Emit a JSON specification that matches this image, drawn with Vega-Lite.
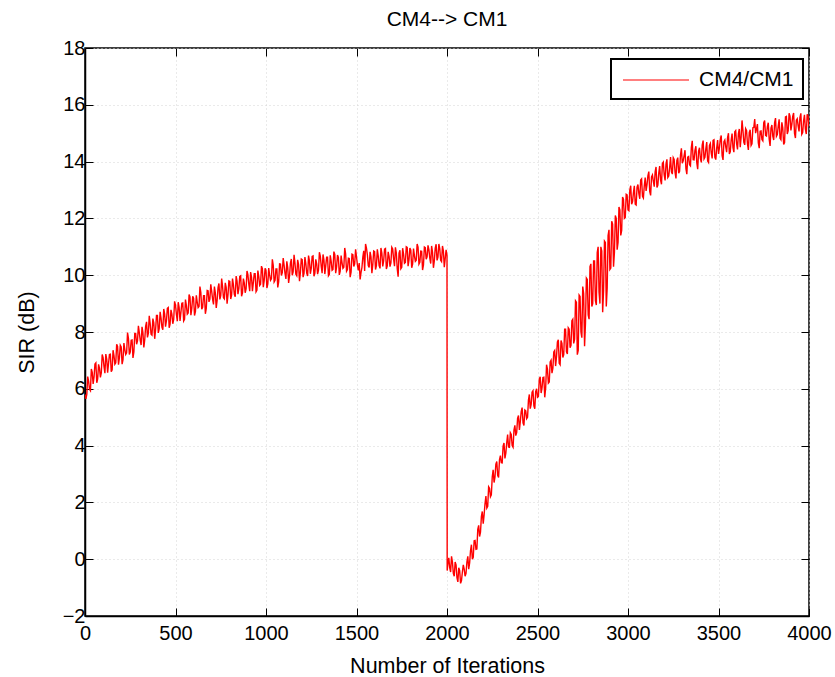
{
  "$schema": "https://vega.github.io/schema/vega-lite/v6.json",
  "width": 724,
  "height": 568,
  "autosize": {"type": "none"},
  "padding": {"left": 85, "top": 48, "right": 26, "bottom": 61},
  "background": "white",
  "title": {"text": "CM4--> CM1", "fontSize": 21, "fontWeight": "normal", "font": "Liberation Sans", "color": "black", "anchor": "middle", "offset": 8},
  "config": {
    "font": "Liberation Sans",
    "view": {"stroke": "black", "strokeWidth": 1.5},
    "axis": {"labelFontSize": 20, "titleFontSize": 21.5, "titleFontWeight": "normal", "labelColor": "black", "titleColor": "black", "domainColor": "black", "domainWidth": 1.5, "tickColor": "black", "tickSize": -8, "tickWidth": 1, "gridColor": "#d4d4d4", "gridDash": [1, 3], "gridWidth": 1, "labelFlush": false, "labelOverlap": false}
  },
  "data": {"values": [
{"iter":0,"sir":5.8},{"iter":5,"sir":5.65},{"iter":10,"sir":5.8},{"iter":15,"sir":6.43},{"iter":20,"sir":6.26},{"iter":25,"sir":5.98},{"iter":30,"sir":5.93},{"iter":35,"sir":6.7},{"iter":40,"sir":6.58},{"iter":45,"sir":6.17},{"iter":50,"sir":6.42},{"iter":55,"sir":6.87},{"iter":60,"sir":6.91},{"iter":65,"sir":6.21},{"iter":70,"sir":6.35},{"iter":75,"sir":6.86},{"iter":80,"sir":6.73},{"iter":85,"sir":6.4},{"iter":90,"sir":6.56},{"iter":95,"sir":7.21},{"iter":100,"sir":7.1},
{"iter":105,"sir":6.78},{"iter":110,"sir":6.55},{"iter":115,"sir":7.22},{"iter":120,"sir":7.05},{"iter":125,"sir":6.57},{"iter":130,"sir":6.89},{"iter":135,"sir":7.21},{"iter":140,"sir":7.22},{"iter":145,"sir":6.6},{"iter":150,"sir":6.67},{"iter":155,"sir":7.36},{"iter":160,"sir":7.17},{"iter":165,"sir":6.87},{"iter":170,"sir":6.92},{"iter":175,"sir":7.57},{"iter":180,"sir":7.49},{"iter":185,"sir":6.85},{"iter":190,"sir":7.09},{"iter":195,"sir":7.53},{"iter":200,"sir":7.47},
{"iter":205,"sir":6.87},{"iter":210,"sir":7.03},{"iter":215,"sir":7.61},{"iter":220,"sir":7.38},{"iter":225,"sir":7.21},{"iter":230,"sir":7.27},{"iter":235,"sir":7.98},{"iter":240,"sir":7.78},{"iter":245,"sir":7.21},{"iter":250,"sir":7.29},{"iter":255,"sir":7.71},{"iter":260,"sir":7.72},{"iter":265,"sir":7.09},{"iter":270,"sir":7.3},{"iter":275,"sir":7.95},{"iter":280,"sir":7.95},{"iter":285,"sir":7.57},{"iter":290,"sir":7.69},{"iter":295,"sir":8.22},{"iter":300,"sir":7.98},
{"iter":305,"sir":7.71},{"iter":310,"sir":7.54},{"iter":315,"sir":8.18},{"iter":320,"sir":7.98},{"iter":325,"sir":7.46},{"iter":330,"sir":7.73},{"iter":335,"sir":8.2},{"iter":340,"sir":8.36},{"iter":345,"sir":7.81},{"iter":350,"sir":7.95},{"iter":355,"sir":8.57},{"iter":360,"sir":8.3},{"iter":365,"sir":7.92},{"iter":370,"sir":7.89},{"iter":375,"sir":8.47},{"iter":380,"sir":8.32},{"iter":385,"sir":7.76},{"iter":390,"sir":8.08},{"iter":395,"sir":8.58},{"iter":400,"sir":8.58},
{"iter":405,"sir":7.97},{"iter":410,"sir":8.12},{"iter":415,"sir":8.71},{"iter":420,"sir":8.49},{"iter":425,"sir":8.17},{"iter":430,"sir":8.08},{"iter":435,"sir":8.81},{"iter":440,"sir":8.64},{"iter":445,"sir":8.19},{"iter":450,"sir":8.4},{"iter":455,"sir":8.83},{"iter":460,"sir":8.86},{"iter":465,"sir":8.15},{"iter":470,"sir":8.28},{"iter":475,"sir":8.78},{"iter":480,"sir":8.63},{"iter":485,"sir":8.29},{"iter":490,"sir":8.44},{"iter":495,"sir":9.08},{"iter":500,"sir":8.95},
{"iter":505,"sir":8.62},{"iter":510,"sir":8.38},{"iter":515,"sir":9.05},{"iter":520,"sir":8.87},{"iter":525,"sir":8.39},{"iter":530,"sir":8.7},{"iter":535,"sir":9.01},{"iter":540,"sir":9.02},{"iter":545,"sir":8.39},{"iter":550,"sir":8.45},{"iter":555,"sir":9.14},{"iter":560,"sir":8.94},{"iter":565,"sir":8.63},{"iter":570,"sir":8.67},{"iter":575,"sir":9.32},{"iter":580,"sir":9.24},{"iter":585,"sir":8.59},{"iter":590,"sir":8.82},{"iter":595,"sir":9.26},{"iter":600,"sir":9.19},
{"iter":605,"sir":8.58},{"iter":610,"sir":8.72},{"iter":615,"sir":9.29},{"iter":620,"sir":9.05},{"iter":625,"sir":8.86},{"iter":630,"sir":8.9},{"iter":635,"sir":9.6},{"iter":640,"sir":9.39},{"iter":645,"sir":8.8},{"iter":650,"sir":8.87},{"iter":655,"sir":9.28},{"iter":660,"sir":9.28},{"iter":665,"sir":8.64},{"iter":670,"sir":8.83},{"iter":675,"sir":9.46},{"iter":680,"sir":9.45},{"iter":685,"sir":9.06},{"iter":690,"sir":9.16},{"iter":695,"sir":9.68},{"iter":700,"sir":9.43},
{"iter":705,"sir":9.15},{"iter":710,"sir":8.97},{"iter":715,"sir":9.6},{"iter":720,"sir":9.38},{"iter":725,"sir":8.85},{"iter":730,"sir":9.11},{"iter":735,"sir":9.56},{"iter":740,"sir":9.71},{"iter":745,"sir":9.15},{"iter":750,"sir":9.28},{"iter":755,"sir":9.88},{"iter":760,"sir":9.6},{"iter":765,"sir":9.21},{"iter":770,"sir":9.17},{"iter":775,"sir":9.73},{"iter":780,"sir":9.57},{"iter":785,"sir":9.0},{"iter":790,"sir":9.31},{"iter":795,"sir":9.8},{"iter":800,"sir":9.78},
{"iter":805,"sir":9.16},{"iter":810,"sir":9.3},{"iter":815,"sir":9.88},{"iter":820,"sir":9.66},{"iter":825,"sir":9.33},{"iter":830,"sir":9.24},{"iter":835,"sir":9.97},{"iter":840,"sir":9.79},{"iter":845,"sir":9.33},{"iter":850,"sir":9.53},{"iter":855,"sir":9.96},{"iter":860,"sir":9.98},{"iter":865,"sir":9.26},{"iter":870,"sir":9.38},{"iter":875,"sir":9.88},{"iter":880,"sir":9.73},{"iter":885,"sir":9.38},{"iter":890,"sir":9.52},{"iter":895,"sir":10.15},{"iter":900,"sir":10.02},
{"iter":905,"sir":9.68},{"iter":910,"sir":9.44},{"iter":915,"sir":10.11},{"iter":920,"sir":9.93},{"iter":925,"sir":9.44},{"iter":930,"sir":9.74},{"iter":935,"sir":10.05},{"iter":940,"sir":10.05},{"iter":945,"sir":9.42},{"iter":950,"sir":9.48},{"iter":955,"sir":10.16},{"iter":960,"sir":9.96},{"iter":965,"sir":9.64},{"iter":970,"sir":9.68},{"iter":975,"sir":10.32},{"iter":980,"sir":10.23},{"iter":985,"sir":9.58},{"iter":990,"sir":9.81},{"iter":995,"sir":10.24},{"iter":1000,"sir":10.17},
{"iter":1005,"sir":9.55},{"iter":1010,"sir":9.69},{"iter":1015,"sir":10.25},{"iter":1020,"sir":10.01},{"iter":1025,"sir":9.82},{"iter":1030,"sir":9.87},{"iter":1035,"sir":10.56},{"iter":1040,"sir":10.35},{"iter":1045,"sir":9.76},{"iter":1050,"sir":9.82},{"iter":1055,"sir":10.22},{"iter":1060,"sir":10.22},{"iter":1065,"sir":9.57},{"iter":1070,"sir":9.76},{"iter":1075,"sir":10.4},{"iter":1080,"sir":10.39},{"iter":1085,"sir":9.99},{"iter":1090,"sir":10.09},{"iter":1095,"sir":10.6},{"iter":1100,"sir":10.35},
{"iter":1105,"sir":10.06},{"iter":1110,"sir":9.87},{"iter":1115,"sir":10.49},{"iter":1120,"sir":10.27},{"iter":1125,"sir":9.73},{"iter":1130,"sir":9.98},{"iter":1135,"sir":10.43},{"iter":1140,"sir":10.57},{"iter":1145,"sir":10.0},{"iter":1150,"sir":10.12},{"iter":1155,"sir":10.72},{"iter":1160,"sir":10.43},{"iter":1165,"sir":10.03},{"iter":1170,"sir":9.98},{"iter":1175,"sir":10.54},{"iter":1180,"sir":10.37},{"iter":1185,"sir":9.79},{"iter":1190,"sir":10.09},{"iter":1195,"sir":10.57},{"iter":1200,"sir":10.55},
{"iter":1205,"sir":9.93},{"iter":1210,"sir":10.06},{"iter":1215,"sir":10.64},{"iter":1220,"sir":10.41},{"iter":1225,"sir":10.07},{"iter":1230,"sir":9.97},{"iter":1235,"sir":10.69},{"iter":1240,"sir":10.51},{"iter":1245,"sir":10.05},{"iter":1250,"sir":10.24},{"iter":1255,"sir":10.66},{"iter":1260,"sir":10.68},{"iter":1265,"sir":9.96},{"iter":1270,"sir":10.07},{"iter":1275,"sir":10.56},{"iter":1280,"sir":10.4},{"iter":1285,"sir":10.04},{"iter":1290,"sir":10.18},{"iter":1295,"sir":10.81},{"iter":1300,"sir":10.67},
{"iter":1305,"sir":10.32},{"iter":1310,"sir":10.07},{"iter":1315,"sir":10.73},{"iter":1320,"sir":10.54},{"iter":1325,"sir":10.04},{"iter":1330,"sir":10.33},{"iter":1335,"sir":10.63},{"iter":1340,"sir":10.63},{"iter":1345,"sir":9.98},{"iter":1350,"sir":10.03},{"iter":1355,"sir":10.7},{"iter":1360,"sir":10.49},{"iter":1365,"sir":10.17},{"iter":1370,"sir":10.2},{"iter":1375,"sir":10.83},{"iter":1380,"sir":10.73},{"iter":1385,"sir":10.07},{"iter":1390,"sir":10.29},{"iter":1395,"sir":10.71},{"iter":1400,"sir":10.63},
{"iter":1405,"sir":10.01},{"iter":1410,"sir":10.14},{"iter":1415,"sir":10.69},{"iter":1420,"sir":10.44},{"iter":1425,"sir":10.24},{"iter":1430,"sir":10.28},{"iter":1435,"sir":10.96},{"iter":1440,"sir":10.74},{"iter":1445,"sir":10.14},{"iter":1450,"sir":10.2},{"iter":1455,"sir":10.6},{"iter":1460,"sir":10.59},{"iter":1465,"sir":9.93},{"iter":1470,"sir":10.11},{"iter":1475,"sir":10.74},{"iter":1480,"sir":10.72},{"iter":1485,"sir":10.31},{"iter":1490,"sir":10.4},{"iter":1495,"sir":10.91},{"iter":1500,"sir":10.65},
{"iter":1505,"sir":10.36},{"iter":1510,"sir":10.17},{"iter":1515,"sir":10.43},{"iter":1520,"sir":9.85},{"iter":1525,"sir":10.1},{"iter":1530,"sir":10.27},{"iter":1535,"sir":10.64},{"iter":1540,"sir":10.86},{"iter":1545,"sir":10.15},{"iter":1550,"sir":11.1},{"iter":1555,"sir":10.95},{"iter":1560,"sir":10.72},{"iter":1565,"sir":10.34},{"iter":1570,"sir":10.27},{"iter":1575,"sir":10.82},{"iter":1580,"sir":10.65},{"iter":1585,"sir":10.07},{"iter":1590,"sir":10.37},{"iter":1595,"sir":10.85},{"iter":1600,"sir":10.83},
{"iter":1605,"sir":10.2},{"iter":1610,"sir":10.34},{"iter":1615,"sir":10.91},{"iter":1620,"sir":10.68},{"iter":1625,"sir":10.34},{"iter":1630,"sir":10.24},{"iter":1635,"sir":10.96},{"iter":1640,"sir":10.78},{"iter":1645,"sir":10.31},{"iter":1650,"sir":10.5},{"iter":1655,"sir":10.92},{"iter":1660,"sir":10.94},{"iter":1665,"sir":10.22},{"iter":1670,"sir":10.33},{"iter":1675,"sir":10.82},{"iter":1680,"sir":10.66},{"iter":1685,"sir":10.3},{"iter":1690,"sir":10.43},{"iter":1695,"sir":10.98},{"iter":1700,"sir":10.92},
{"iter":1705,"sir":10.57},{"iter":1710,"sir":10.32},{"iter":1715,"sir":10.98},{"iter":1720,"sir":10.79},{"iter":1725,"sir":10.23},{"iter":1730,"sir":9.95},{"iter":1735,"sir":10.78},{"iter":1740,"sir":10.88},{"iter":1745,"sir":10.23},{"iter":1750,"sir":10.28},{"iter":1755,"sir":10.95},{"iter":1760,"sir":10.74},{"iter":1765,"sir":10.42},{"iter":1770,"sir":10.45},{"iter":1775,"sir":11.0},{"iter":1780,"sir":10.98},{"iter":1785,"sir":10.32},{"iter":1790,"sir":10.54},{"iter":1795,"sir":10.96},{"iter":1800,"sir":10.88},
{"iter":1805,"sir":10.26},{"iter":1810,"sir":10.39},{"iter":1815,"sir":10.94},{"iter":1820,"sir":10.69},{"iter":1825,"sir":10.49},{"iter":1830,"sir":10.53},{"iter":1835,"sir":11.1},{"iter":1840,"sir":10.99},{"iter":1845,"sir":10.39},{"iter":1850,"sir":10.45},{"iter":1855,"sir":10.85},{"iter":1860,"sir":10.84},{"iter":1865,"sir":10.18},{"iter":1870,"sir":10.36},{"iter":1875,"sir":10.99},{"iter":1880,"sir":10.97},{"iter":1885,"sir":10.56},{"iter":1890,"sir":10.65},{"iter":1895,"sir":11.05},{"iter":1900,"sir":10.9},
{"iter":1905,"sir":10.6},{"iter":1910,"sir":10.41},{"iter":1915,"sir":11.03},{"iter":1920,"sir":10.81},{"iter":1925,"sir":10.26},{"iter":1930,"sir":10.51},{"iter":1935,"sir":10.95},{"iter":1940,"sir":11.09},{"iter":1945,"sir":10.52},{"iter":1950,"sir":10.64},{"iter":1955,"sir":11.1},{"iter":1960,"sir":10.94},{"iter":1965,"sir":10.53},{"iter":1970,"sir":10.48},{"iter":1975,"sir":11.03},{"iter":1980,"sir":10.86},{"iter":1985,"sir":10.28},{"iter":1990,"sir":10.58},{"iter":1995,"sir":10.89},{"iter":2000,"sir":10.7},
{"iter":2001,"sir":-0.4},{"iter":2005,"sir":-0.15},{"iter":2010,"sir":0.05},{"iter":2015,"sir":-0.3},{"iter":2020,"sir":-0.45},{"iter":2025,"sir":0.1},{"iter":2030,"sir":-0.1},{"iter":2035,"sir":-0.5},{"iter":2040,"sir":-0.6},{"iter":2045,"sir":-0.1},{"iter":2050,"sir":-0.2},{"iter":2055,"sir":-0.65},{"iter":2060,"sir":-0.8},{"iter":2065,"sir":-0.3},{"iter":2070,"sir":-0.4},{"iter":2075,"sir":-0.85},{"iter":2080,"sir":-0.75},{"iter":2085,"sir":-0.45},{"iter":2090,"sir":-0.2},{"iter":2095,"sir":-0.35},{"iter":2100,"sir":-0.6},
{"iter":2105,"sir":-0.5},{"iter":2110,"sir":-0.1},{"iter":2115,"sir":0.1},{"iter":2120,"sir":-0.35},{"iter":2125,"sir":-0.13},{"iter":2130,"sir":0.3},{"iter":2135,"sir":0.51},{"iter":2140,"sir":0.0},{"iter":2145,"sir":0.07},{"iter":2150,"sir":0.65},{"iter":2155,"sir":0.66},{"iter":2160,"sir":0.35},{"iter":2165,"sir":0.36},{"iter":2170,"sir":1.05},{"iter":2175,"sir":1.19},{"iter":2180,"sir":0.8},{"iter":2185,"sir":0.95},{"iter":2190,"sir":1.5},{"iter":2195,"sir":1.68},{"iter":2200,"sir":1.25},
{"iter":2205,"sir":1.56},{"iter":2210,"sir":1.95},{"iter":2215,"sir":2.22},{"iter":2220,"sir":1.8},{"iter":2225,"sir":1.86},{"iter":2230,"sir":2.55},{"iter":2235,"sir":2.5},{"iter":2240,"sir":2.2},{"iter":2245,"sir":2.27},{"iter":2250,"sir":2.9},{"iter":2255,"sir":3.15},{"iter":2260,"sir":2.7},{"iter":2265,"sir":2.89},{"iter":2270,"sir":3.35},{"iter":2275,"sir":3.44},{"iter":2280,"sir":2.95},{"iter":2285,"sir":2.88},{"iter":2290,"sir":3.5},{"iter":2295,"sir":3.65},{"iter":2300,"sir":3.4},
{"iter":2305,"sir":3.39},{"iter":2310,"sir":3.98},{"iter":2315,"sir":4.09},{"iter":2320,"sir":3.55},{"iter":2325,"sir":3.73},{"iter":2330,"sir":4.1},{"iter":2335,"sir":4.39},{"iter":2340,"sir":3.95},{"iter":2345,"sir":3.94},{"iter":2350,"sir":4.45},{"iter":2355,"sir":4.39},{"iter":2360,"sir":4.0},{"iter":2365,"sir":3.94},{"iter":2370,"sir":4.55},{"iter":2375,"sir":4.71},{"iter":2380,"sir":4.35},{"iter":2385,"sir":4.46},{"iter":2390,"sir":4.96},{"iter":2395,"sir":5.06},{"iter":2400,"sir":4.55},
{"iter":2405,"sir":4.84},{"iter":2410,"sir":5.2},{"iter":2415,"sir":5.34},{"iter":2420,"sir":4.8},{"iter":2425,"sir":4.71},{"iter":2430,"sir":5.25},{"iter":2435,"sir":5.22},{"iter":2440,"sir":4.95},{"iter":2445,"sir":5.0},{"iter":2450,"sir":5.6},{"iter":2455,"sir":5.8},{"iter":2460,"sir":5.3},{"iter":2465,"sir":5.45},{"iter":2470,"sir":5.88},{"iter":2475,"sir":5.93},{"iter":2480,"sir":5.4},{"iter":2485,"sir":5.3},{"iter":2490,"sir":5.9},{"iter":2495,"sir":6.0},{"iter":2500,"sir":5.7},
{"iter":2505,"sir":5.73},{"iter":2510,"sir":6.35},{"iter":2515,"sir":6.42},{"iter":2520,"sir":5.85},{"iter":2525,"sir":6.03},{"iter":2530,"sir":6.4},{"iter":2535,"sir":6.41},{"iter":2540,"sir":5.7},{"iter":2545,"sir":6.02},{"iter":2550,"sir":6.85},{"iter":2555,"sir":6.69},{"iter":2560,"sir":6.2},{"iter":2565,"sir":6.24},{"iter":2570,"sir":6.95},{"iter":2575,"sir":7.01},{"iter":2580,"sir":6.55},{"iter":2585,"sir":6.73},{"iter":2590,"sir":7.3},{"iter":2595,"sir":7.35},{"iter":2600,"sir":6.8},
{"iter":2605,"sir":7.13},{"iter":2610,"sir":7.65},{"iter":2615,"sir":7.73},{"iter":2620,"sir":6.9},{"iter":2625,"sir":6.85},{"iter":2630,"sir":7.7},{"iter":2635,"sir":7.6},{"iter":2640,"sir":7.1},{"iter":2645,"sir":7.2},{"iter":2650,"sir":8.1},{"iter":2655,"sir":8.1},{"iter":2660,"sir":7.3},{"iter":2665,"sir":7.23},{"iter":2670,"sir":8.15},{"iter":2675,"sir":8.1},{"iter":2680,"sir":7.45},{"iter":2685,"sir":7.53},{"iter":2690,"sir":8.4},{"iter":2695,"sir":8.45},{"iter":2700,"sir":7.6},
{"iter":2705,"sir":7.75},{"iter":2710,"sir":9.1},{"iter":2715,"sir":9.05},{"iter":2720,"sir":7.2},{"iter":2725,"sir":7.35},{"iter":2730,"sir":9.3},{"iter":2735,"sir":9.25},{"iter":2740,"sir":8.0},{"iter":2745,"sir":7.8},{"iter":2750,"sir":9.6},{"iter":2755,"sir":9.35},{"iter":2760,"sir":7.5},{"iter":2765,"sir":8.3},{"iter":2770,"sir":9.9},{"iter":2775,"sir":9.85},{"iter":2780,"sir":8.6},{"iter":2785,"sir":8.45},{"iter":2790,"sir":10.3},{"iter":2795,"sir":10.4},{"iter":2800,"sir":8.9},
{"iter":2805,"sir":9.0},{"iter":2810,"sir":10.5},{"iter":2815,"sir":10.5},{"iter":2820,"sir":9.1},{"iter":2825,"sir":8.95},{"iter":2830,"sir":10.8},{"iter":2835,"sir":11.0},{"iter":2840,"sir":9.4},{"iter":2845,"sir":9.0},{"iter":2850,"sir":11.0},{"iter":2855,"sir":10.85},{"iter":2860,"sir":8.7},{"iter":2865,"sir":9.45},{"iter":2870,"sir":11.2},{"iter":2875,"sir":11.15},{"iter":2880,"sir":8.9},{"iter":2885,"sir":9.55},{"iter":2890,"sir":11.4},{"iter":2895,"sir":11.6},{"iter":2900,"sir":10.2},
{"iter":2905,"sir":10.25},{"iter":2910,"sir":11.9},{"iter":2915,"sir":11.8},{"iter":2920,"sir":10.3},{"iter":2925,"sir":10.8},{"iter":2930,"sir":12.1},{"iter":2935,"sir":12.0},{"iter":2940,"sir":10.9},{"iter":2945,"sir":11.15},{"iter":2950,"sir":12.4},{"iter":2955,"sir":12.3},{"iter":2960,"sir":11.4},{"iter":2965,"sir":11.58},{"iter":2970,"sir":12.75},{"iter":2975,"sir":12.68},{"iter":2980,"sir":12.0},{"iter":2985,"sir":12.03},{"iter":2990,"sir":12.85},{"iter":2995,"sir":12.83},{"iter":3000,"sir":12.3},
{"iter":3005,"sir":12.27},{"iter":3010,"sir":13.0},{"iter":3015,"sir":13.15},{"iter":3020,"sir":12.5},{"iter":3025,"sir":12.58},{"iter":3030,"sir":12.9},{"iter":3035,"sir":13.15},{"iter":3040,"sir":12.5},{"iter":3045,"sir":12.47},{"iter":3050,"sir":13.1},{"iter":3055,"sir":13.19},{"iter":3060,"sir":12.87},{"iter":3065,"sir":12.69},{"iter":3070,"sir":13.35},{"iter":3075,"sir":13.39},{"iter":3080,"sir":12.78},{"iter":3085,"sir":12.72},{"iter":3090,"sir":13.15},{"iter":3095,"sir":13.44},{"iter":3100,"sir":12.97},
{"iter":3105,"sir":13.19},{"iter":3110,"sir":13.5},{"iter":3115,"sir":13.65},{"iter":3120,"sir":12.95},{"iter":3125,"sir":12.81},{"iter":3130,"sir":13.46},{"iter":3135,"sir":13.53},{"iter":3140,"sir":13.3},{"iter":3145,"sir":13.12},{"iter":3150,"sir":13.64},{"iter":3155,"sir":13.81},{"iter":3160,"sir":13.09},{"iter":3165,"sir":13.17},{"iter":3170,"sir":13.6},{"iter":3175,"sir":13.84},{"iter":3180,"sir":13.35},{"iter":3185,"sir":13.2},{"iter":3190,"sir":13.93},{"iter":3195,"sir":13.98},{"iter":3200,"sir":13.53},
{"iter":3205,"sir":13.34},{"iter":3210,"sir":13.91},{"iter":3215,"sir":14.08},{"iter":3220,"sir":13.44},{"iter":3225,"sir":13.49},{"iter":3230,"sir":13.78},{"iter":3235,"sir":14.16},{"iter":3240,"sir":13.64},{"iter":3245,"sir":13.56},{"iter":3250,"sir":14.14},{"iter":3255,"sir":14.08},{"iter":3260,"sir":13.62},{"iter":3265,"sir":13.41},{"iter":3270,"sir":14.04},{"iter":3275,"sir":14.14},{"iter":3280,"sir":13.59},{"iter":3285,"sir":13.66},{"iter":3290,"sir":14.23},{"iter":3295,"sir":14.47},{"iter":3300,"sir":13.94},
{"iter":3305,"sir":14.03},{"iter":3310,"sir":14.21},{"iter":3315,"sir":14.4},{"iter":3320,"sir":13.75},{"iter":3325,"sir":13.56},{"iter":3330,"sir":14.16},{"iter":3335,"sir":14.18},{"iter":3340,"sir":13.89},{"iter":3345,"sir":13.85},{"iter":3350,"sir":14.5},{"iter":3355,"sir":14.73},{"iter":3360,"sir":14.07},{"iter":3365,"sir":14.06},{"iter":3370,"sir":14.4},{"iter":3375,"sir":14.54},{"iter":3380,"sir":13.96},{"iter":3385,"sir":13.73},{"iter":3390,"sir":14.37},{"iter":3395,"sir":14.49},{"iter":3400,"sir":14.11},
{"iter":3405,"sir":13.97},{"iter":3410,"sir":14.58},{"iter":3415,"sir":14.74},{"iter":3420,"sir":14.09},{"iter":3425,"sir":14.15},{"iter":3430,"sir":14.45},{"iter":3435,"sir":14.69},{"iter":3440,"sir":14.02},{"iter":3445,"sir":13.97},{"iter":3450,"sir":14.57},{"iter":3455,"sir":14.64},{"iter":3460,"sir":14.3},{"iter":3465,"sir":14.11},{"iter":3470,"sir":14.75},{"iter":3475,"sir":14.77},{"iter":3480,"sir":14.15},{"iter":3485,"sir":14.07},{"iter":3490,"sir":14.48},{"iter":3495,"sir":14.76},{"iter":3500,"sir":14.27},
{"iter":3505,"sir":14.48},{"iter":3510,"sir":14.78},{"iter":3515,"sir":14.92},{"iter":3520,"sir":14.21},{"iter":3525,"sir":14.06},{"iter":3530,"sir":14.7},{"iter":3535,"sir":14.76},{"iter":3540,"sir":14.52},{"iter":3545,"sir":14.33},{"iter":3550,"sir":14.84},{"iter":3555,"sir":15.0},{"iter":3560,"sir":14.27},{"iter":3565,"sir":14.34},{"iter":3570,"sir":14.76},{"iter":3575,"sir":14.99},{"iter":3580,"sir":14.49},{"iter":3585,"sir":14.33},{"iter":3590,"sir":15.05},{"iter":3595,"sir":15.09},{"iter":3600,"sir":14.63},
{"iter":3605,"sir":14.43},{"iter":3610,"sir":14.99},{"iter":3615,"sir":15.15},{"iter":3620,"sir":14.51},{"iter":3625,"sir":14.86},{"iter":3630,"sir":15.45},{"iter":3635,"sir":15.1},{"iter":3640,"sir":14.68},{"iter":3645,"sir":14.59},{"iter":3650,"sir":15.16},{"iter":3655,"sir":15.1},{"iter":3660,"sir":14.63},{"iter":3665,"sir":14.41},{"iter":3670,"sir":15.03},{"iter":3675,"sir":15.12},{"iter":3680,"sir":14.57},{"iter":3685,"sir":14.63},{"iter":3690,"sir":15.19},{"iter":3695,"sir":15.2},{"iter":3700,"sir":15.5},
{"iter":3705,"sir":15.0},{"iter":3710,"sir":15.14},{"iter":3715,"sir":15.32},{"iter":3720,"sir":14.66},{"iter":3725,"sir":14.47},{"iter":3730,"sir":15.07},{"iter":3735,"sir":15.08},{"iter":3740,"sir":14.78},{"iter":3745,"sir":14.73},{"iter":3750,"sir":15.37},{"iter":3755,"sir":15.45},{"iter":3760,"sir":14.92},{"iter":3765,"sir":14.9},{"iter":3770,"sir":15.23},{"iter":3775,"sir":15.37},{"iter":3780,"sir":14.79},{"iter":3785,"sir":14.55},{"iter":3790,"sir":15.18},{"iter":3795,"sir":15.29},{"iter":3800,"sir":14.9},
{"iter":3805,"sir":14.76},{"iter":3810,"sir":15.37},{"iter":3815,"sir":15.53},{"iter":3820,"sir":14.89},{"iter":3825,"sir":14.95},{"iter":3830,"sir":15.25},{"iter":3835,"sir":15.49},{"iter":3840,"sir":14.82},{"iter":3845,"sir":14.77},{"iter":3850,"sir":15.38},{"iter":3855,"sir":15.19},{"iter":3860,"sir":14.6},{"iter":3865,"sir":14.67},{"iter":3870,"sir":15.57},{"iter":3875,"sir":15.59},{"iter":3880,"sir":14.97},{"iter":3885,"sir":15.09},{"iter":3890,"sir":15.7},{"iter":3895,"sir":15.6},{"iter":3900,"sir":15.1},
{"iter":3905,"sir":15.3},{"iter":3910,"sir":15.59},{"iter":3915,"sir":15.71},{"iter":3920,"sir":14.99},{"iter":3925,"sir":14.83},{"iter":3930,"sir":15.46},{"iter":3935,"sir":15.51},{"iter":3940,"sir":15.26},{"iter":3945,"sir":15.06},{"iter":3950,"sir":15.56},{"iter":3955,"sir":15.7},{"iter":3960,"sir":14.96},{"iter":3965,"sir":15.02},{"iter":3970,"sir":15.43},{"iter":3975,"sir":15.65},{"iter":3980,"sir":15.14},{"iter":3985,"sir":14.97},{"iter":3990,"sir":15.67},{"iter":3995,"sir":15.6},{"iter":4000,"sir":15.23}
  ]},
  "layer": [
    {
      "mark": {"type": "line", "strokeWidth": 1.4, "clip": true},
      "encoding": {
        "x": {"field": "iter", "type": "quantitative", "scale": {"domain": [0, 4000], "nice": false, "zero": false},
              "axis": {"title": "Number of Iterations", "format": "d", "values": [0,500,1000,1500,2000,2500,3000,3500,4000], "labelPadding": 15, "titlePadding": 12, "grid": true}},
        "y": {"field": "sir", "type": "quantitative", "scale": {"domain": [-2, 18], "nice": false, "zero": false},
              "axis": {"title": "SIR (dB)", "format": "d", "values": [-2,0,2,4,6,8,10,12,14,16,18], "labelPadding": 8, "titlePadding": 24, "grid": true}},
        "color": {"datum": "CM4/CM1", "type": "nominal", "scale": {"range": ["#ff0000"]},
                  "legend": {"title": null, "orient": "none", "legendX": 526, "legendY": 11, "strokeColor": "black", "fillColor": "white", "padding": 9, "symbolType": "M-3,0H3", "symbolSize": 484, "symbolOffset": 24, "labelFontSize": 21, "labelOffset": 31, "labelColor": "black",
                             "encode": {"legend": {"update": {"strokeWidth": {"value": 2}}}, "symbols": {"update": {"stroke": {"value": "#ff0000"}, "strokeWidth": {"value": 1.2}, "fill": {"value": "transparent"}, "opacity": {"value": 1}}}}}}
      }
    },
    {
      "mark": {"type": "line", "strokeOpacity": 0},
      "encoding": {
        "x": {"field": "iter", "type": "quantitative", "axis": {"orient": "top", "title": null, "labels": false, "grid": false, "domain": false, "minExtent": 0, "maxExtent": 0, "values": [0,500,1000,1500,2000,2500,3000,3500,4000]}},
        "y": {"field": "sir", "type": "quantitative", "axis": {"orient": "right", "title": null, "labels": false, "grid": false, "domain": false, "minExtent": 0, "maxExtent": 0, "values": [-2,0,2,4,6,8,10,12,14,16,18]}}
      }
    }
  ],
  "resolve": {"axis": {"x": "independent", "y": "independent"}}
}
